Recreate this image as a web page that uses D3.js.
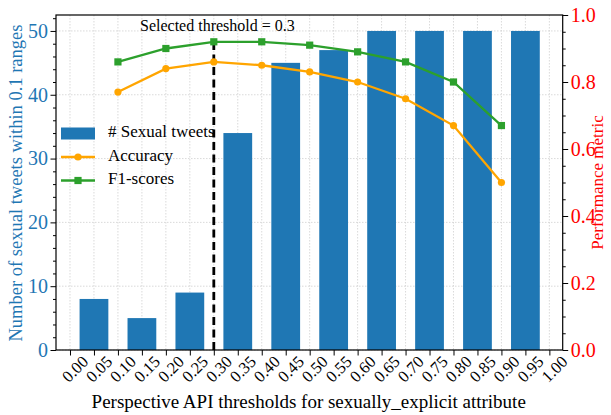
<!DOCTYPE html>
<html lang="en">
<head>
<meta charset="UTF-8">
<title>Perspective API thresholds</title>
<style>
    body { margin: 0; background: #fff; }
    svg { display: block; font-family: "Liberation Serif", "Times New Roman", serif; }
    .grid line { stroke: #d0d0d0; stroke-width: 0.8; stroke-dasharray: 1.5,1.5; }
</style>
</head>
<body>
<div id="chart"></div>
<script src="https://d3js.org/d3.v7.min.js"></script>
<script>
    // Data
    const tickValues = [0.00, 0.05, 0.10, 0.15, 0.20, 0.25, 0.30, 0.35, 0.40, 0.45, 0.50,
                        0.55, 0.60, 0.65, 0.70, 0.75, 0.80, 0.85, 0.90, 0.95, 1.00];
    const barCenters = [0.05, 0.15, 0.25, 0.35, 0.45, 0.55, 0.65, 0.75, 0.85, 0.95];
    const barCounts = [8, 5, 9, 34, 45, 47, 50, 50, 50, 50];
    const lineX = [0.1, 0.2, 0.3, 0.4, 0.5, 0.6, 0.7, 0.8, 0.9];
    const accuracy = [0.77, 0.84, 0.86, 0.85, 0.83, 0.80, 0.75, 0.67, 0.50];
    const f1Scores = [0.86, 0.90, 0.92, 0.92, 0.91, 0.89, 0.86, 0.80, 0.67];
    const leftTicks = [0, 10, 20, 30, 40, 50];
    const rightTicks = [0.0, 0.2, 0.4, 0.6, 0.8, 1.0];
    const selected = 0.3;

    const width = 611, height = 415;
    const pLeft = 56, pRight = 562.7, pTop = 15, pBottom = 350;

    const blue = "#1f77b4", orange = "#ffa500", green = "#2ca02c", red = "#ff0000";
    const serif = "'Liberation Serif', 'Times New Roman', serif";

    const svg = d3.select("#chart").append("svg")
        .attr("width", width).attr("height", height);

    const x = d3.scaleLinear().domain([-0.0292, 1.0278]).range([pLeft, pRight]);
    const yL = d3.scaleLinear().domain([0, 52.5]).range([pBottom, pTop]);
    const yR = d3.scaleLinear().domain([0, 1]).range([pBottom, pTop]);

    // grid
    const grid = svg.append("g").attr("class", "grid");
    grid.selectAll(".gx").data(tickValues).enter().append("line")
        .attr("x1", d => x(d)).attr("x2", d => x(d))
        .attr("y1", pTop).attr("y2", pBottom);
    grid.selectAll(".gy").data(leftTicks).enter().append("line")
        .attr("x1", pLeft).attr("x2", pRight)
        .attr("y1", d => yL(d)).attr("y2", d => yL(d));

    // bars
    svg.selectAll(".bar").data(barCenters).enter().append("rect")
        .attr("x", d => x(d - 0.03))
        .attr("width", x(0.06) - x(0))
        .attr("y", (d, i) => yL(barCounts[i]))
        .attr("height", (d, i) => pBottom - yL(barCounts[i]))
        .attr("fill", blue);

    // selected threshold line
    svg.append("line")
        .attr("x1", x(selected)).attr("x2", x(selected))
        .attr("y1", yR(0)).attr("y2", yR(f1Scores[2]))
        .attr("stroke", "#000").attr("stroke-width", 2.8)
        .attr("stroke-dasharray", "8,4.5");

    svg.append("text")
        .attr("x", x(0.146)).attr("y", yL(50.05))
        .attr("font-size", 16).attr("fill", "#000")
        .text("Selected threshold = 0.3");

    // lines
    const line = d3.line().x(d => x(d[0])).y(d => yR(d[1]));
    const accPts = lineX.map((v, i) => [v, accuracy[i]]);
    const f1Pts = lineX.map((v, i) => [v, f1Scores[i]]);

    svg.append("path").datum(accPts).attr("d", line)
        .attr("fill", "none").attr("stroke", orange).attr("stroke-width", 2.3);
    svg.selectAll(".accm").data(accPts).enter().append("circle")
        .attr("cx", d => x(d[0])).attr("cy", d => yR(d[1])).attr("r", 3.6)
        .attr("fill", orange);

    svg.append("path").datum(f1Pts).attr("d", line)
        .attr("fill", "none").attr("stroke", green).attr("stroke-width", 2.3);
    svg.selectAll(".f1m").data(f1Pts).enter().append("rect")
        .attr("x", d => x(d[0]) - 3.6).attr("y", d => yR(d[1]) - 3.6)
        .attr("width", 7.2).attr("height", 7.2)
        .attr("fill", green);

    // frame
    svg.append("rect")
        .attr("x", pLeft).attr("y", pTop)
        .attr("width", pRight - pLeft).attr("height", pBottom - pTop)
        .attr("fill", "none").attr("stroke", "#000").attr("stroke-width", 1.2);

    // left axis
    const gl = svg.append("g").attr("transform", `translate(${pLeft},0)`);
    gl.call(d3.axisLeft(yL).tickValues(leftTicks).tickSize(5.5).tickPadding(2.5).tickFormat(d3.format("d")));
    gl.append("g").call(d3.axisLeft(yL).tickValues(d3.range(0, 53, 2).filter(v => v % 10)).tickSize(3).tickFormat(""));
    gl.selectAll(".domain").remove();
    gl.attr("font-family", serif);
    gl.selectAll("line").attr("stroke", "#000").attr("stroke-width", 1);
    gl.selectAll("text").attr("font-size", 20).attr("fill", blue)
        .attr("font-family", serif);

    // right axis
    const gr = svg.append("g").attr("transform", `translate(${pRight},0)`);
    gr.call(d3.axisRight(yR).tickValues(rightTicks).tickSize(5.5).tickPadding(2.5).tickFormat(d3.format(".1f")));
    gr.append("g").call(d3.axisRight(yR).tickValues(d3.range(0.05, 1, 0.05).filter((v, i) => i % 4 !== 3)).tickSize(3).tickFormat(""));
    gr.selectAll(".domain").remove();
    gr.attr("font-family", serif);
    gr.selectAll("line").attr("stroke", "#000").attr("stroke-width", 1);
    gr.selectAll("text").attr("font-size", 20).attr("fill", red)
        .attr("font-family", serif);

    // bottom axis
    const gb = svg.append("g").attr("transform", `translate(0,${pBottom})`);
    gb.call(d3.axisBottom(x).tickValues(tickValues).tickSize(5.5).tickFormat(d3.format(".2f")));
    gb.selectAll(".domain").remove();
    gb.attr("font-family", serif);
    gb.selectAll("line").attr("stroke", "#000").attr("stroke-width", 1);
    gb.selectAll("text")
        .attr("font-size", 16.5).attr("fill", "#000")
        .attr("font-family", serif)
        .attr("text-anchor", "end")
        .attr("dy", "0.35em")
        .attr("transform", "translate(9,3) rotate(-45)")
        .attr("y", 8).attr("x", 0);

    // axis titles
    svg.append("text")
        .attr("transform", `translate(18,${(pTop + pBottom) / 2 + 0.5}) rotate(-90)`)
        .attr("text-anchor", "middle").attr("dominant-baseline", "middle")
        .attr("font-size", 18.5).attr("fill", blue)
        .text("Number of sexual tweets within 0.1 ranges");

    svg.append("text")
        .attr("transform", `translate(599,${(pTop + pBottom) / 2}) rotate(-90)`)
        .attr("text-anchor", "middle").attr("dominant-baseline", "middle")
        .attr("font-size", 17).attr("fill", red)
        .text("Performance metric");

    svg.append("text")
        .attr("x", 308.7).attr("y", 404)
        .attr("text-anchor", "middle").attr("dominant-baseline", "middle")
        .attr("font-size", 19).attr("fill", "#000")
        .text("Perspective API thresholds for sexually_explicit attribute");

    // legend
    const lg = svg.append("g");
    const legendItems = [
        { label: "# Sexual tweets", type: "bar", color: blue },
        { label: "Accuracy", type: "circle", color: orange },
        { label: "F1-scores", type: "square", color: green }
    ];
    legendItems.forEach((it, i) => {
        const cy = 133.5 + i * 23.5;
        if (it.type === "bar") {
            lg.append("rect").attr("x", 61).attr("y", cy - 6).attr("width", 34).attr("height", 12).attr("fill", it.color);
        } else {
            lg.append("line").attr("x1", 61).attr("x2", 95).attr("y1", cy).attr("y2", cy)
                .attr("stroke", it.color).attr("stroke-width", 2.3);
            if (it.type === "circle") {
                lg.append("circle").attr("cx", 78).attr("cy", cy).attr("r", 3.6).attr("fill", it.color);
            } else {
                lg.append("rect").attr("x", 74.4).attr("y", cy - 3.6).attr("width", 7.2).attr("height", 7.2).attr("fill", it.color);
            }
        }
        lg.append("text").attr("x", 108).attr("y", cy).attr("dominant-baseline", "middle")
            .attr("font-size", 17).attr("fill", "#000").text(it.label);
    });
</script>
</body>
</html>
